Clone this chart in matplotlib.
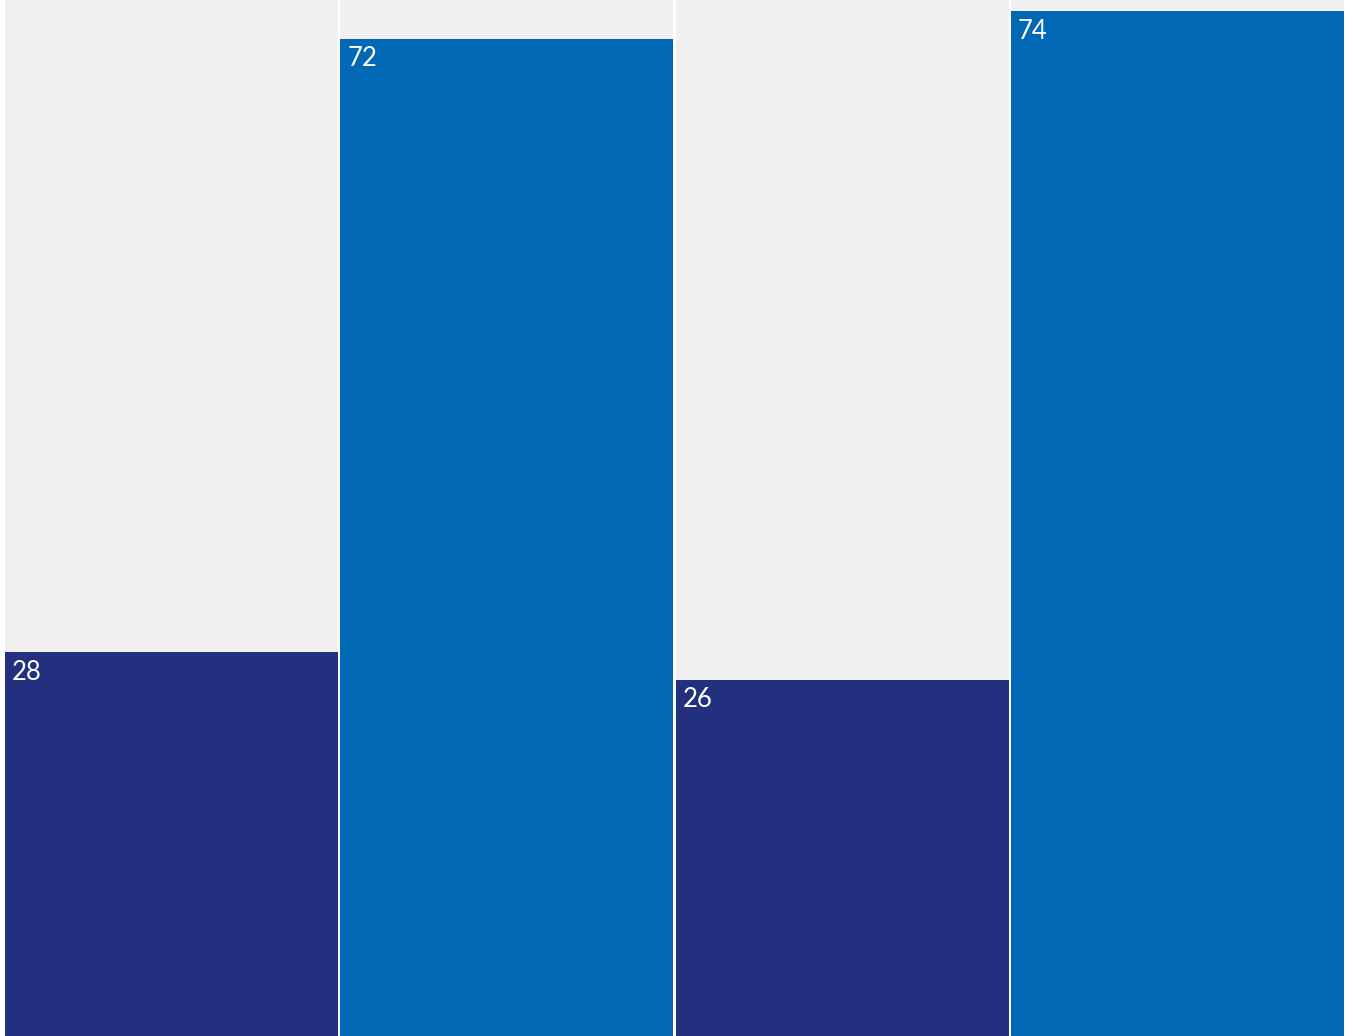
import matplotlib
matplotlib.use("Agg")
import matplotlib.pyplot as plt

categories = ["A", "B", "C", "D"]
values = [27.8, 72.2, 25.8, 74.2]
labels = ["28", "72", "26", "74"]
colors = ["#22307f", "#0068b4", "#22307f", "#0068b4"]
ymax = 75.0

fig = plt.figure(figsize=(13.53, 10.36), dpi=100)
fig.patch.set_facecolor("white")
ax = fig.add_axes([5 / 1353, 0, 1339 / 1353, 1])
ax.set_facecolor("white")
x = list(range(len(categories)))
w = 0.994
ax.bar(x, [ymax] * len(x), width=w, color="#f0f0f0", linewidth=0)
bars = ax.bar(x, values, width=w, color=colors, linewidth=0)
for b, lab in zip(bars, labels):
    ax.annotate(lab, (b.get_x(), b.get_height()), xytext=(5, -5.5),
                textcoords="offset points", ha="left", va="top",
                color="white", fontsize=18.5, family=["Lato", "DejaVu Sans"])
ax.set_xlim(-w / 2, len(x) - 1 + w / 2)
ax.set_ylim(0, ymax)
ax.axis("off")
fig.savefig("out.png", dpi=100, facecolor="white")
